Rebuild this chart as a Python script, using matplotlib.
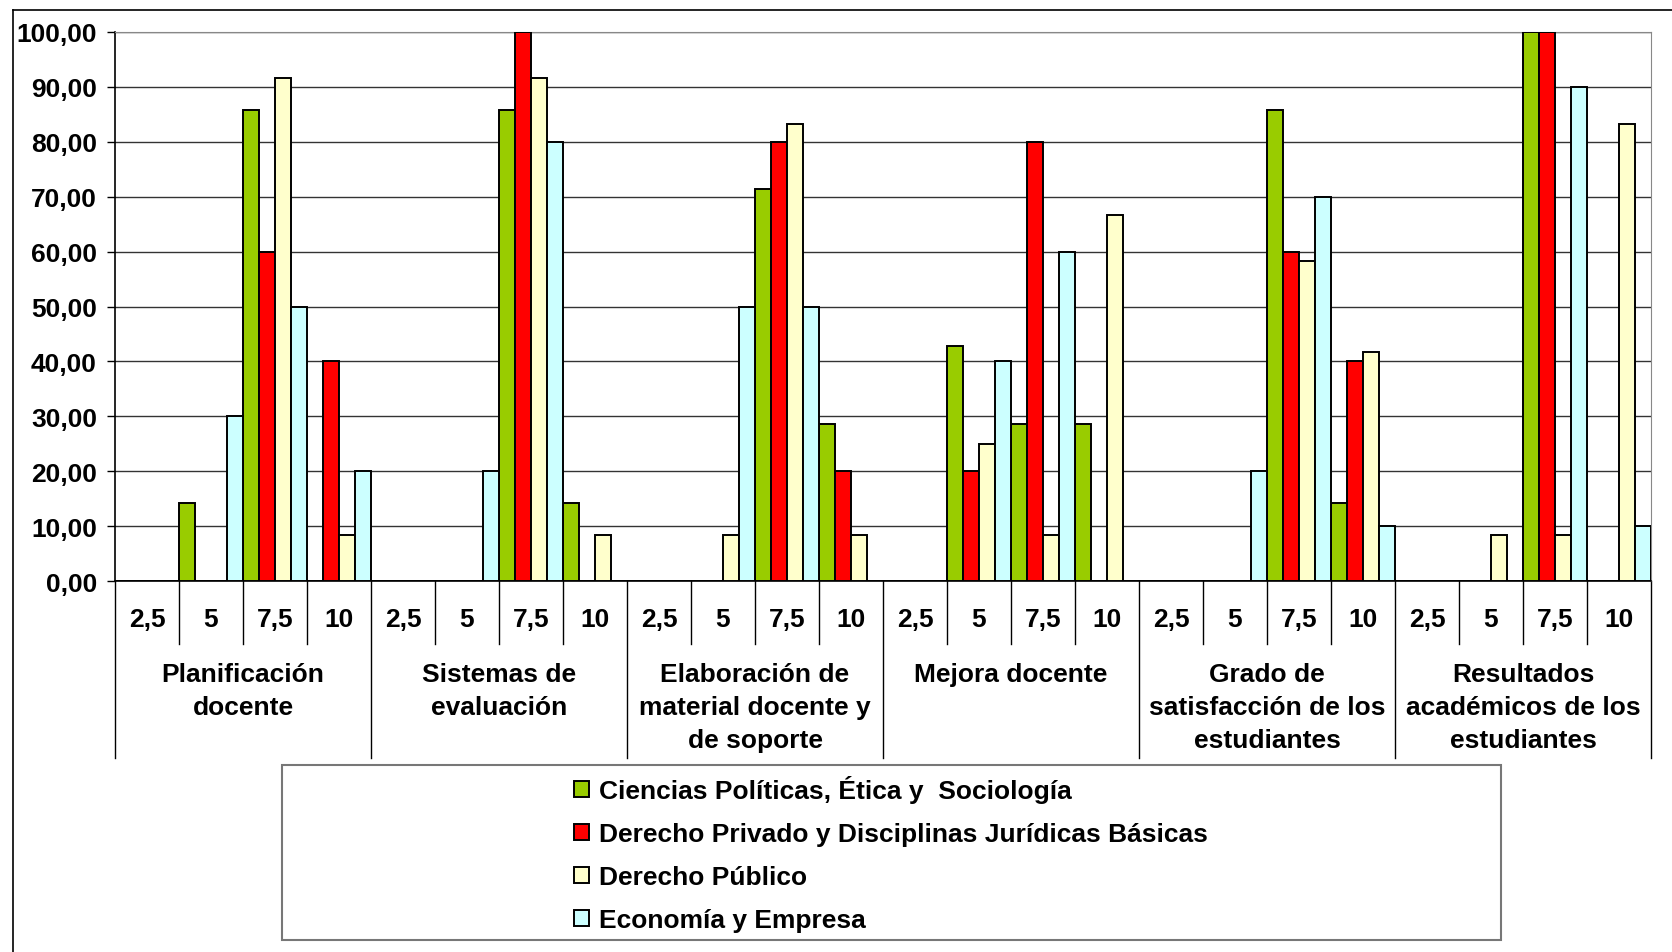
import matplotlib

matplotlib.use("Agg")
import matplotlib.pyplot as plt
import numpy as np
from matplotlib.lines import Line2D
from matplotlib.patches import Rectangle
from matplotlib.ticker import FuncFormatter

plt.rcParams["font.family"] = ["Liberation Sans", "DejaVu Sans"]
plt.rcParams["font.weight"] = "bold"

groups = [
    "Planificación\ndocente",
    "Sistemas de\nevaluación",
    "Elaboración de\nmaterial docente y\nde soporte",
    "Mejora docente",
    "Grado de\nsatisfacción de los\nestudiantes",
    "Resultados\nacadémicos de los\nestudiantes",
]
scores = ["2,5", "5", "7,5", "10"]

series_names = [
    "Ciencias Políticas, Ética y  Sociología",
    "Derecho Privado y Disciplinas Jurídicas Básicas",
    "Derecho Público",
    "Economía y Empresa",
]
colors = ["#99CC00", "#FF0000", "#FFFFCC", "#CCFFFF"]

# one value per (group, score), 6 groups x 4 scores
ciencias = [0, 14.29, 85.71, 0, 0, 0, 85.71, 14.29, 0, 0, 71.43, 28.57,
            0, 42.86, 28.57, 28.57, 0, 0, 85.71, 14.29, 0, 0, 100, 0]
privado = [0, 0, 60, 40, 0, 0, 100, 0, 0, 0, 80, 20,
           0, 20, 80, 0, 0, 0, 60, 40, 0, 0, 100, 0]
publico = [0, 0, 91.67, 8.33, 0, 0, 91.67, 8.33, 0, 8.33, 83.33, 8.33,
           0, 25, 8.33, 66.67, 0, 0, 58.33, 41.67, 0, 8.33, 8.33, 83.33]
economia = [0, 30, 50, 20, 0, 20, 80, 0, 0, 50, 50, 0,
            0, 40, 60, 0, 0, 20, 70, 10, 0, 0, 90, 10]
series = [ciencias, privado, publico, economia]

W, H = 1672, 953
fig = plt.figure(figsize=(W / 100, H / 100), dpi=100)
ax = fig.add_axes([115 / W, 1 - 582 / H, (1651 - 115) / W, (582 - 33) / H])

n_cat = len(groups) * len(scores)
x = np.arange(n_cat)
bw = 0.25
for j, (vals, col, name) in enumerate(zip(series, colors, series_names)):
    v = np.array(vals, dtype=float)
    ax.bar(x + bw * (j + 0.5), v, width=bw, align="center", color=col,
           edgecolor="black", linewidth=1.4, label=name, zorder=3)

ax.set_xlim(0, n_cat)
ax.set_ylim(0, 100)
ax.set_yticks(np.arange(0, 101, 10))
ax.yaxis.set_major_formatter(FuncFormatter(lambda v, p: f"{v:.2f}".replace(".", ",")))
ax.tick_params(axis="y", labelsize=19, length=6, width=1, pad=7, direction="out")
ax.set_xticks([])
ax.yaxis.grid(True, color="#333333", linewidth=1.0, zorder=0)
ax.set_axisbelow(True)
for side in ["left", "bottom"]:
    ax.spines[side].set_color("black")
    ax.spines[side].set_linewidth(1.2)
ax.spines["top"].set_color("#888888")
ax.spines["right"].set_color("#888888")

# multi-level category axis
tr = ax.get_xaxis_transform()
sub_bottom = -(645 - 582) / 549
grp_bottom = -(759 - 582) / 549
for i in range(n_cat + 1):
    y1 = grp_bottom if i % len(scores) == 0 else sub_bottom
    ax.plot([i, i], [0, y1], color="black", linewidth=1.0, transform=tr, clip_on=False)
for i in range(n_cat):
    ax.text(i + 0.5, -(620 - 582) / 549, scores[i % len(scores)], transform=tr,
            ha="center", va="center", fontsize=19, fontweight="bold")
for g, name in enumerate(groups):
    ax.text(g * len(scores) + len(scores) / 2, -(663 - 582) / 549, name, transform=tr,
            ha="center", va="top", fontsize=19, fontweight="bold", linespacing=1.48)

# legend box
bx0, bx1, by0, by1 = 281.5, 1501, 765.6, 940.5
fig.add_artist(Rectangle((bx0 / W, 1 - by1 / H), (bx1 - bx0) / W, (by1 - by0) / H,
                         transform=fig.transFigure, facecolor="white",
                         edgecolor="#777777", linewidth=1.5))
handles, labels = ax.get_legend_handles_labels()
fig.legend(handles, labels, loc="center",
           bbox_to_anchor=((bx0 + bx1) / 2 / W, 1 - (by0 + by1) / 2 / H - 0.002),
           frameon=False, fontsize=19, handlelength=0.55, handleheight=0.55,
           handletextpad=0.4, labelspacing=0.72)

# outer chart border
fig.add_artist(Line2D([12.8 / W, 12.8 / W], [0, 1 - 10.7 / H], color="black", linewidth=1.2))
fig.add_artist(Line2D([12.8 / W, 1], [1 - 10.7 / H, 1 - 10.7 / H], color="black", linewidth=1.2))

fig.savefig("out.png", dpi=100)
